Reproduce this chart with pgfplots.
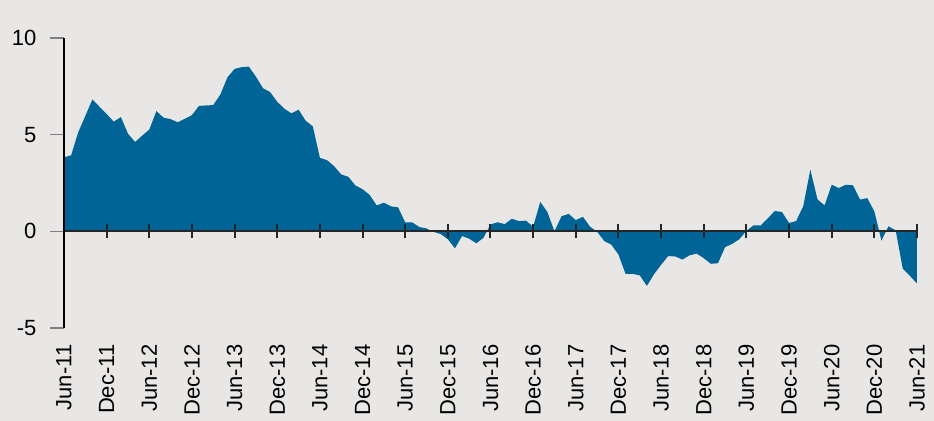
\documentclass[border=0pt]{standalone}
\usepackage{fontspec}
\setmainfont{Liberation Sans}
\usepackage{pgfplots}
\pgfplotsset{compat=1.18}
\usepackage{pgfplotstable}

\definecolor{bgc}{RGB}{232,231,229}
\definecolor{areac}{RGB}{0,100,150}

% monthly series, month 0 = Jun-11
\pgfplotstableread{
m v
0 3.83
1 3.93
2 5.12
3 5.97
4 6.82
5 6.44
6 6.07
7 5.67
8 5.91
9 5.05
10 4.62
11 4.95
12 5.26
13 6.22
14 5.88
15 5.80
16 5.64
17 5.82
18 6.01
19 6.49
20 6.51
21 6.53
22 7.08
23 7.97
24 8.40
25 8.49
26 8.52
27 8.00
28 7.40
29 7.20
30 6.70
31 6.34
32 6.10
33 6.29
34 5.72
35 5.43
36 3.80
37 3.68
38 3.37
39 2.94
40 2.82
41 2.37
42 2.18
43 1.88
44 1.34
45 1.48
46 1.29
47 1.24
48 0.46
49 0.46
50 0.22
51 0.15
52 -0.03
53 -0.14
54 -0.41
55 -0.88
56 -0.24
57 -0.38
58 -0.62
59 -0.34
60 0.35
61 0.47
62 0.37
63 0.65
64 0.53
65 0.55
66 0.24
67 1.52
68 1.00
69 0.00
70 0.78
71 0.90
72 0.58
73 0.75
74 0.24
75 -0.02
76 -0.50
77 -0.69
78 -1.20
79 -2.20
80 -2.20
81 -2.28
82 -2.82
83 -2.22
84 -1.73
85 -1.28
86 -1.30
87 -1.46
88 -1.24
89 -1.15
90 -1.39
91 -1.68
92 -1.65
93 -0.82
94 -0.65
95 -0.41
96 0.02
97 0.31
98 0.30
99 0.67
100 1.05
101 1.00
102 0.43
103 0.53
104 1.30
105 3.19
106 1.65
107 1.34
108 2.41
109 2.24
110 2.41
111 2.38
112 1.64
113 1.72
114 1.03
115 -0.48
116 0.26
117 0.05
118 -1.93
119 -2.30
120 -2.70
}\datatable

\begin{document}
\begin{tikzpicture}
  \fill[bgc] (-32pt,-46.5pt) rectangle (435pt,164pt);
  \pgfplotsset{
    base/.style={
      scale only axis,
      width=426.5pt, height=145pt,
      at={(0,0)}, anchor=south west,
      xmin=0, xmax=120, ymin=-5, ymax=10,
      xtick={0,6,...,120},
      font=\fontsize{11}{13}\selectfont,
      /pgf/number format/assume math mode=true,
    },
  }
  % data, y axis and zero line with ticks
  \begin{axis}[
    base,
    axis on top,
    axis y line*=left,
    axis x line*=middle,
    ytick={-5,0,5,10},
    y axis line style={line width=0.6pt},
    x axis line style={line width=1pt, color=black!85},
    ytick style={line width=0.6pt},
    xtick style={line width=1pt, color=black!85},
    major tick length=7pt,
    xtick align=center,
    ytick align=outside,
    yticklabel style={xshift=-3.3pt},
    xticklabels={},
    clip=false,
  ]
    \addplot[fill=areac, draw=none] table[x=m, y=v] {\datatable} \closedcycle;
  \end{axis}
  % bottom date labels
  \begin{axis}[
    base,
    axis y line=none,
    axis x line*=bottom,
    x axis line style={draw=none},
    xtick style={draw=none},
    major tick length=0pt,
    xticklabels={Jun-11,Dec-11,Jun-12,Dec-12,Jun-13,Dec-13,Jun-14,Dec-14,
      Jun-15,Dec-15,Jun-16,Dec-16,Jun-17,Dec-17,Jun-18,Dec-18,Jun-19,
      Dec-19,Jun-20,Dec-20,Jun-21},
    xticklabel style={rotate=90, anchor=east},
    xticklabel shift=4.8pt,
  ]
    \addplot[draw=none] coordinates {(0,0)};
  \end{axis}
  \pgfresetboundingbox
  \path (-32pt,-46.5pt) rectangle (435pt,164pt);
\end{tikzpicture}
\end{document}
